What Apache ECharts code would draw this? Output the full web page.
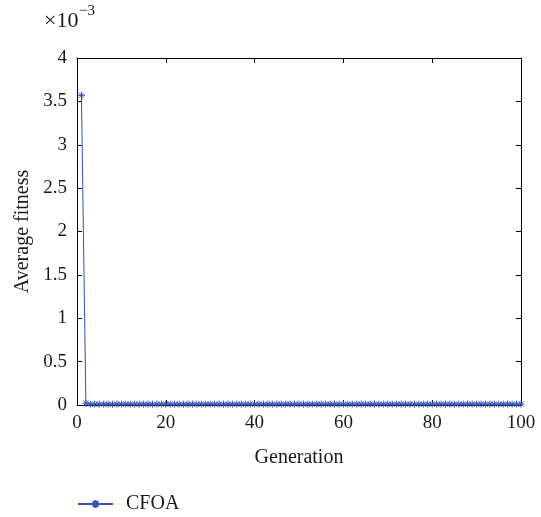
<!DOCTYPE html>
<html>
<head>
<meta charset="utf-8">
<script src="https://cdn.jsdelivr.net/npm/echarts@6/dist/echarts.min.js"></script>
<style>html,body{margin:0;padding:0;background:#fff}#c{width:541px;height:517px}</style>
</head>
<body>
<div id="c"></div>
<script>
const seriesName = 'CFOA';
const generations = [1,2,3,4,5,6,7,8,9,10,11,12,13,14,15,16,17,18,19,20,21,22,23,24,25,26,27,28,29,30,31,32,33,34,35,36,37,38,39,40,41,42,43,44,45,46,47,48,49,50,51,52,53,54,55,56,57,58,59,60,61,62,63,64,65,66,67,68,69,70,71,72,73,74,75,76,77,78,79,80,81,82,83,84,85,86,87,88,89,90,91,92,93,94,95,96,97,98,99,100];
const avgFitness = [0.00357,0.00002,0.00001,0.00001,0.00001,0.00001,0.00001,0.00001,0.00001,0.00001,
0.00001,0.00001,0.00001,0.00001,0.00001,0.00001,0.00001,0.00001,0.00001,0.00001,
0.00001,0.00001,0.00001,0.00001,0.00001,0.00001,0.00001,0.00001,0.00001,0.00001,
0.00001,0.00001,0.00001,0.00001,0.00001,0.00001,0.00001,0.00001,0.00001,0.00001,
0.00001,0.00001,0.00001,0.00001,0.00001,0.00001,0.00001,0.00001,0.00001,0.00001,
0.00001,0.00001,0.00001,0.00001,0.00001,0.00001,0.00001,0.00001,0.00001,0.00001,
0.00001,0.00001,0.00001,0.00001,0.00001,0.00001,0.00001,0.00001,0.00001,0.00001,
0.00001,0.00001,0.00001,0.00001,0.00001,0.00001,0.00001,0.00001,0.00001,0.00001,
0.00001,0.00001,0.00001,0.00001,0.00001,0.00001,0.00001,0.00001,0.00001,0.00001,
0.00001,0.00001,0.00001,0.00001,0.00001,0.00001,0.00001,0.00001,0.00001,0.00001];
const xTicks = [0,20,40,60,80,100];
const yTickLabels = ['0','0.5','1','1.5','2','2.5','3','3.5','4'];

const FONT = 'Liberation Serif';
const BLUE = '#3352b3';
const TXT = '#1a1a1a';
const star = 'path://M0,-10L0,10M-10,0L10,0M-7,-7L7,7M-7,7L7,-7';

const chart = echarts.init(document.getElementById('c'), null, {renderer: 'canvas'});
const axisCommon = {
  axisLine: {show: true, onZero: false, lineStyle: {color: '#000', width: 1}},
  axisTick: {show: true, inside: true, length: 5, lineStyle: {color: '#000'}},
  splitLine: {show: false}
};
chart.setOption({
  animation: false,
  textStyle: {fontFamily: FONT},
  grid: {left: 77, right: 20, top: 58, bottom: 112, containLabel: false},
  graphic: [
    {type: 'text', left: 44, top: 10, style: {text: '×10', font: '22px "Liberation Serif"', fill: TXT}},
    {type: 'text', left: 79, top: 4, style: {text: '−3', font: '15px "Liberation Serif"', fill: TXT}}
  ],
  xAxis: [
    Object.assign({
      type: 'value', min: 0, max: 100, interval: 20, position: 'bottom',
      name: 'Generation', nameLocation: 'middle', nameGap: 43,
      nameTextStyle: {fontFamily: FONT, fontSize: 20, color: TXT},
      axisLabel: {fontFamily: FONT, fontSize: 19, color: TXT, margin: 9,
        formatter: v => xTicks.indexOf(v) >= 0 ? String(v) : ''}
    }, axisCommon),
    Object.assign({
      type: 'value', min: 0, max: 100, interval: 20, position: 'top',
      axisLabel: {show: false}
    }, axisCommon)
  ],
  yAxis: [
    Object.assign({
      type: 'value', min: 0, max: 0.004, interval: 0.0005, position: 'left',
      name: 'Average fitness', nameLocation: 'middle', nameGap: 44,
      nameTextStyle: {fontFamily: FONT, fontSize: 20, color: TXT},
      axisLabel: {fontFamily: FONT, fontSize: 19, color: TXT, margin: 10,
        formatter: v => yTickLabels[Math.round(v / 0.0005)]}
    }, axisCommon),
    Object.assign({
      type: 'value', min: 0, max: 0.004, interval: 0.0005, position: 'right',
      axisLabel: {show: false}
    }, axisCommon)
  ],
  legend: {
    show: true, left: 72, top: 489, itemWidth: 35, itemHeight: 10, itemGap: 10,
    textStyle: {fontFamily: FONT, fontSize: 20, color: TXT, padding: [0, 0, 0, 8]},
    data: [seriesName]
  },
  series: [{
    name: seriesName, type: 'line', xAxisIndex: 0, yAxisIndex: 0,
    data: generations.map((g, i) => [g, avgFitness[i]]),
    symbol: star, symbolSize: 7, showAllSymbol: true,
    lineStyle: {color: BLUE, width: 1},
    itemStyle: {color: BLUE, borderColor: BLUE, borderWidth: 1}
  }]
});
</script>
</body>
</html>
